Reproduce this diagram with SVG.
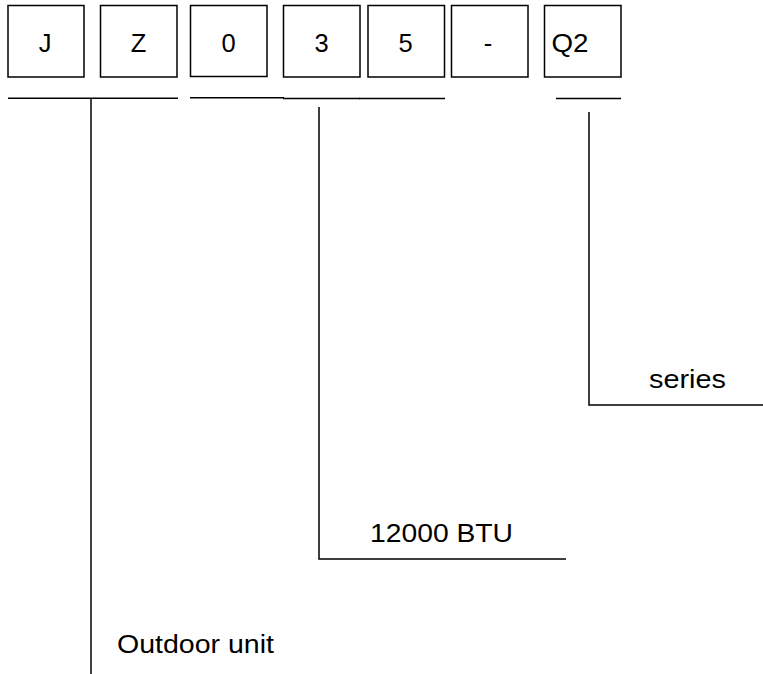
<svg xmlns="http://www.w3.org/2000/svg" width="763" height="674" viewBox="0 0 763 674">
<style>
.box{fill:#fff;stroke:#000;stroke-width:1.5}
.ln{fill:none;stroke:#000;stroke-width:1.5}
text{font-family:"Liberation Sans",Arial,sans-serif;font-size:25.5px;fill:#000}
.c{text-anchor:middle}
</style>
<rect width="763" height="674" fill="#fff"/>
<g id="box-J"><rect class="box" x="8" y="5.5" width="76" height="71.5"/><text class="c" x="45" y="52">J</text></g>
<g id="box-Z"><rect class="box" x="100.5" y="5.5" width="76.5" height="71.5"/><text class="c" x="138.5" y="52">Z</text></g>
<g id="box-0"><rect class="box" x="190.5" y="5.5" width="76.5" height="71"/><text class="c" x="228.5" y="52">0</text></g>
<g id="box-3"><rect class="box" x="283.5" y="5.5" width="76.5" height="71.5"/><text class="c" x="321.5" y="52">3</text></g>
<g id="box-5"><rect class="box" x="368" y="5.5" width="76.5" height="71.5"/><text class="c" x="405.5" y="52">5</text></g>
<g id="box-dash"><rect class="box" x="451.5" y="5.5" width="76.5" height="71.5"/><text class="c" x="488" y="52">-</text></g>
<g id="box-Q2"><rect class="box" x="544.5" y="5.5" width="76.5" height="71.5"/><text x="551.5" y="52" textLength="37" lengthAdjust="spacingAndGlyphs">Q2</text></g>
<g id="connectors">
<line class="ln" x1="8" y1="98.3" x2="178" y2="98.3"/>
<line class="ln" x1="190" y1="97.8" x2="284" y2="97.8"/>
<line class="ln" x1="283" y1="98.6" x2="360" y2="98.6"/>
<line class="ln" x1="359" y1="98.6" x2="445" y2="98.6"/>
<line class="ln" x1="556" y1="98.6" x2="621" y2="98.6"/>
<polyline class="ln" points="91,98 91,674"/>
<polyline class="ln" points="319,107 319,559 566,559"/>
<polyline class="ln" points="589,112 589,405 763,405"/>
</g>
<g id="label-series"><text x="649" y="388" textLength="77" lengthAdjust="spacingAndGlyphs">series</text></g>
<g id="label-btu"><text x="370" y="542" textLength="143" lengthAdjust="spacingAndGlyphs">12000 BTU</text></g>
<g id="label-outdoor"><text x="117" y="653" textLength="157" lengthAdjust="spacingAndGlyphs">Outdoor unit</text></g>
</svg>
